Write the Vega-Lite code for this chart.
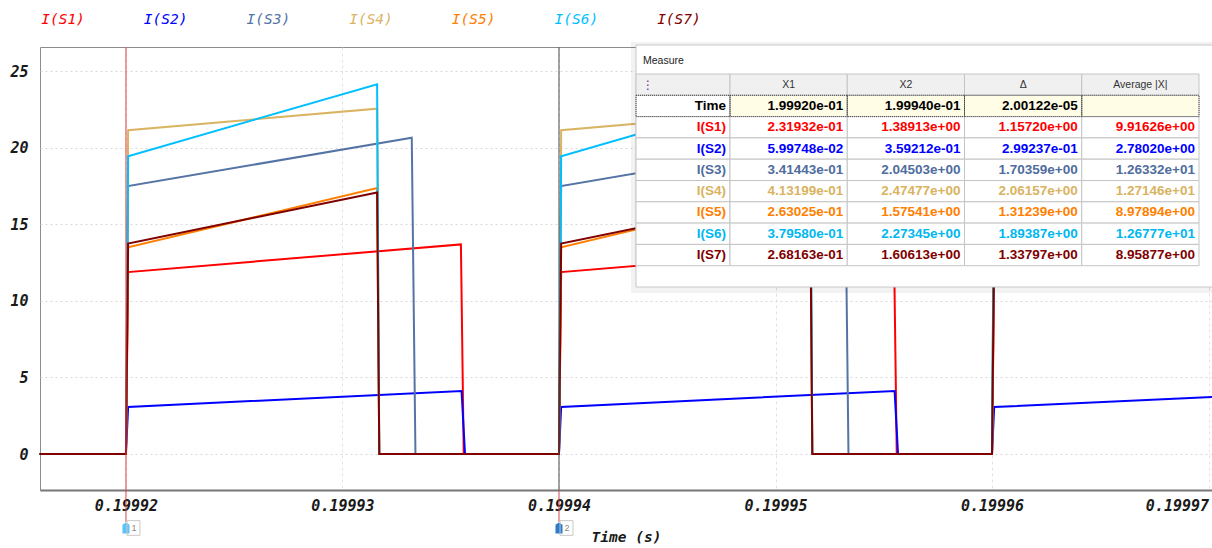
{
  "$schema": "https://vega.github.io/schema/vega-lite/v6.json",
  "width": 1172,
  "height": 443,
  "autosize": "none",
  "padding": {"left": 40, "top": 47, "right": 0, "bottom": 58},
  "background": "white",
  "config": {"view": {"stroke": "#8c8c8c", "strokeWidth": 1}, "font": "Liberation Sans"},
  "datasets": {
    "waves": [
      {"s": "I(S1)", "t": 0.199916, "i": 0}, {"s": "I(S1)", "t": 0.19992, "i": 0}, {"s": "I(S1)", "t": 0.1999201, "i": 11.88}, {"s": "I(S1)", "t": 0.19993547, "i": 13.69}, {"s": "I(S1)", "t": 0.1999356, "i": 0}, {"s": "I(S1)", "t": 0.19994, "i": 0}, {"s": "I(S1)", "t": 0.1999401, "i": 11.88}, {"s": "I(S1)", "t": 0.19995547, "i": 13.69}, {"s": "I(S1)", "t": 0.1999556, "i": 0}, {"s": "I(S1)", "t": 0.19996, "i": 0}, {"s": "I(S1)", "t": 0.1999601, "i": 11.88}, {"s": "I(S1)", "t": 0.19997016, "i": 13.05},
      {"s": "I(S2)", "t": 0.199916, "i": 0}, {"s": "I(S2)", "t": 0.19992, "i": 0}, {"s": "I(S2)", "t": 0.1999201, "i": 3.07}, {"s": "I(S2)", "t": 0.1999355, "i": 4.12}, {"s": "I(S2)", "t": 0.19993566, "i": 0}, {"s": "I(S2)", "t": 0.19994, "i": 0}, {"s": "I(S2)", "t": 0.1999401, "i": 3.07}, {"s": "I(S2)", "t": 0.1999555, "i": 4.12}, {"s": "I(S2)", "t": 0.19995566, "i": 0}, {"s": "I(S2)", "t": 0.19996, "i": 0}, {"s": "I(S2)", "t": 0.1999601, "i": 3.07}, {"s": "I(S2)", "t": 0.19997016, "i": 3.72},
      {"s": "I(S3)", "t": 0.199916, "i": 0}, {"s": "I(S3)", "t": 0.19992, "i": 0}, {"s": "I(S3)", "t": 0.1999201, "i": 17.5}, {"s": "I(S3)", "t": 0.1999332, "i": 20.65}, {"s": "I(S3)", "t": 0.19993337, "i": 0}, {"s": "I(S3)", "t": 0.19994, "i": 0}, {"s": "I(S3)", "t": 0.1999401, "i": 17.5}, {"s": "I(S3)", "t": 0.1999532, "i": 20.65}, {"s": "I(S3)", "t": 0.19995337, "i": 0}, {"s": "I(S3)", "t": 0.19996, "i": 0}, {"s": "I(S3)", "t": 0.1999601, "i": 17.5}, {"s": "I(S3)", "t": 0.19997016, "i": 19.95},
      {"s": "I(S4)", "t": 0.199916, "i": 0}, {"s": "I(S4)", "t": 0.19992, "i": 0}, {"s": "I(S4)", "t": 0.1999201, "i": 21.15}, {"s": "I(S4)", "t": 0.1999316, "i": 22.55}, {"s": "I(S4)", "t": 0.1999317, "i": 0}, {"s": "I(S4)", "t": 0.19994, "i": 0}, {"s": "I(S4)", "t": 0.1999401, "i": 21.15}, {"s": "I(S4)", "t": 0.1999516, "i": 22.55}, {"s": "I(S4)", "t": 0.1999517, "i": 0}, {"s": "I(S4)", "t": 0.19996, "i": 0}, {"s": "I(S4)", "t": 0.1999601, "i": 21.15}, {"s": "I(S4)", "t": 0.19997016, "i": 22.4},
      {"s": "I(S5)", "t": 0.199916, "i": 0}, {"s": "I(S5)", "t": 0.19992, "i": 0}, {"s": "I(S5)", "t": 0.1999201, "i": 13.5}, {"s": "I(S5)", "t": 0.1999316, "i": 17.37}, {"s": "I(S5)", "t": 0.1999317, "i": 0}, {"s": "I(S5)", "t": 0.19994, "i": 0}, {"s": "I(S5)", "t": 0.1999401, "i": 13.5}, {"s": "I(S5)", "t": 0.1999516, "i": 17.37}, {"s": "I(S5)", "t": 0.1999517, "i": 0}, {"s": "I(S5)", "t": 0.19996, "i": 0}, {"s": "I(S5)", "t": 0.1999601, "i": 13.5}, {"s": "I(S5)", "t": 0.19997016, "i": 16.9},
      {"s": "I(S6)", "t": 0.199916, "i": 0}, {"s": "I(S6)", "t": 0.19992, "i": 0}, {"s": "I(S6)", "t": 0.1999201, "i": 19.45}, {"s": "I(S6)", "t": 0.1999316, "i": 24.15}, {"s": "I(S6)", "t": 0.1999317, "i": 0}, {"s": "I(S6)", "t": 0.19994, "i": 0}, {"s": "I(S6)", "t": 0.1999401, "i": 19.45}, {"s": "I(S6)", "t": 0.1999516, "i": 24.15}, {"s": "I(S6)", "t": 0.1999517, "i": 0}, {"s": "I(S6)", "t": 0.19996, "i": 0}, {"s": "I(S6)", "t": 0.1999601, "i": 19.45}, {"s": "I(S6)", "t": 0.19997016, "i": 23.6},
      {"s": "I(S7)", "t": 0.199916, "i": 0}, {"s": "I(S7)", "t": 0.19992, "i": 0}, {"s": "I(S7)", "t": 0.1999201, "i": 13.75}, {"s": "I(S7)", "t": 0.1999316, "i": 17.08}, {"s": "I(S7)", "t": 0.1999317, "i": 0}, {"s": "I(S7)", "t": 0.19994, "i": 0}, {"s": "I(S7)", "t": 0.1999401, "i": 13.75}, {"s": "I(S7)", "t": 0.1999516, "i": 17.08}, {"s": "I(S7)", "t": 0.1999517, "i": 0}, {"s": "I(S7)", "t": 0.19996, "i": 0}, {"s": "I(S7)", "t": 0.1999601, "i": 13.75}, {"s": "I(S7)", "t": 0.19997016, "i": 16.7}
    ],
    "series": [{"s": "I(S1)"}, {"s": "I(S2)"}, {"s": "I(S3)"}, {"s": "I(S4)"}, {"s": "I(S5)"}, {"s": "I(S6)"}, {"s": "I(S7)"}],
    "cursors": [{"c": "1", "t": 0.19992}, {"c": "2", "t": 0.19994}],
    "panel": [{"p": "Measure"}],
    "measure": [
      {"row": "header", "X1": "X1", "X2": "X2", "Δ": "Δ", "Average |X|": "Average |X|"},
      {"row": "Time", "X1": "1.99920e-01", "X2": "1.99940e-01", "Δ": "2.00122e-05", "Average |X|": ""},
      {"row": "I(S1)", "X1": "2.31932e-01", "X2": "1.38913e+00", "Δ": "1.15720e+00", "Average |X|": "9.91626e+00"},
      {"row": "I(S2)", "X1": "5.99748e-02", "X2": "3.59212e-01", "Δ": "2.99237e-01", "Average |X|": "2.78020e+00"},
      {"row": "I(S3)", "X1": "3.41443e-01", "X2": "2.04503e+00", "Δ": "1.70359e+00", "Average |X|": "1.26332e+01"},
      {"row": "I(S4)", "X1": "4.13199e-01", "X2": "2.47477e+00", "Δ": "2.06157e+00", "Average |X|": "1.27146e+01"},
      {"row": "I(S5)", "X1": "2.63025e-01", "X2": "1.57541e+00", "Δ": "1.31239e+00", "Average |X|": "8.97894e+00"},
      {"row": "I(S6)", "X1": "3.79580e-01", "X2": "2.27345e+00", "Δ": "1.89387e+00", "Average |X|": "1.26777e+01"},
      {"row": "I(S7)", "X1": "2.68163e-01", "X2": "1.60613e+00", "Δ": "1.33797e+00", "Average |X|": "8.95877e+00"}
    ]
  },
  "layer": [
    {
      "layer": [
        {
          "data": {"name": "waves"},
          "mark": {"type": "line", "strokeWidth": 2},
          "encoding": {
            "x": {"field": "t", "type": "quantitative",
              "scale": {"domain": [0.19991603, 0.19997016], "nice": false, "zero": false},
              "axis": {"values": [0.19992, 0.19993, 0.19994, 0.19995, 0.19996, 0.19997], "format": ".5f", "title": "Time (s)",
                "grid": true, "gridColor": "#e2e2e2", "gridDash": [3, 3], "ticks": false, "domain": true, "domainColor": "#777777", "domainWidth": 2,
                "labelFont": "DejaVu Sans Mono", "labelFontStyle": "italic", "labelFontWeight": "bold", "labelFontSize": 15, "labelColor": "#1a1a1a", "labelPadding": 8, "labelFlush": 6,
                "titleFont": "DejaVu Sans Mono", "titleFontStyle": "italic", "titleFontWeight": "bold", "titleFontSize": 14.5, "titleColor": "#1a1a1a", "titlePadding": 17}},
            "y": {"field": "i", "type": "quantitative",
              "scale": {"domain": [-2.35, 26.58], "nice": false, "zero": false},
              "axis": {"values": [0, 5, 10, 15, 20, 25], "title": null, "grid": true, "gridColor": "#d9d9d9", "gridDash": [2, 3], "ticks": false, "domain": false,
                "labelFont": "DejaVu Sans Mono", "labelFontStyle": "italic", "labelFontWeight": "bold", "labelFontSize": 15, "labelColor": "#1a1a1a", "labelPadding": 12}},
            "color": {"field": "s", "type": "nominal",
              "scale": {"domain": ["I(S1)", "I(S2)", "I(S3)", "I(S4)", "I(S5)", "I(S6)", "I(S7)"], "range": ["#ff0000", "#0000ff", "#5574a6", "#d9b462", "#ff8000", "#00bfff", "#800000"]},
              "legend": null}
          }
        },
        {
          "data": {"name": "cursors"},
          "mark": {"type": "rule", "strokeWidth": 1},
          "encoding": {
            "x": {"field": "t", "type": "quantitative"},
            "color": {"condition": {"test": "datum.c === '1'", "value": "#e23a3a"}, "value": "#4a4a4a"}
          }
        },
        {
          "data": {"name": "cursors"},
          "mark": {"type": "rule", "strokeWidth": 1, "color": "#d04848", "clip": false},
          "encoding": {
            "x": {"field": "t", "type": "quantitative"},
            "y": {"datum": -2.35},
            "y2": {"datum": -4.45}
          }
        },
        {
          "data": {"name": "cursors"},
          "mark": {"type": "point", "filled": true, "opacity": 1, "shape": "M0,-1.6L1,-0.9L1,1.6L-1,1.6L-1,-0.9Z", "size": 49, "strokeWidth": 0, "clip": false},
          "encoding": {
            "x": {"field": "t", "type": "quantitative"},
            "y": {"datum": -4.83},
            "color": {"condition": {"test": "datum.c === '1'", "value": "#5cc2f7"}, "value": "#2b7bc9"}
          }
        },
        {
          "data": {"name": "cursors"},
          "mark": {"type": "point", "filled": false, "opacity": 1, "shape": "M0.3,-2.1L4,-2.1L4,2.1L0.3,2.1Z", "size": 49, "strokeWidth": 1, "color": "#c8c8c8", "clip": false},
          "encoding": {
            "x": {"field": "t", "type": "quantitative"},
            "y": {"datum": -4.83}
          }
        },
        {
          "data": {"name": "cursors"},
          "mark": {"type": "text", "dx": 8, "fontSize": 9, "color": "#888888", "align": "center", "baseline": "middle", "font": "Liberation Sans"},
          "encoding": {
            "x": {"field": "t", "type": "quantitative"},
            "y": {"datum": -4.83},
            "text": {"field": "c"}
          }
        }
      ]
    },
    {
      "data": {"name": "series"},
      "mark": {"type": "text", "align": "center", "baseline": "middle", "font": "DejaVu Sans Mono", "fontStyle": "italic", "fontSize": 14.5},
      "encoding": {
        "x": {"field": "s", "type": "nominal", "scale": {"domain": ["I(S1)", "I(S2)", "I(S3)", "I(S4)", "I(S5)", "I(S6)", "I(S7)"], "range": [-28.3, 690.3], "paddingInner": 0, "paddingOuter": 0}, "axis": null},
        "y": {"datum": "legend", "type": "nominal", "scale": {"domain": ["legend"], "range": [-37, -17], "paddingInner": 0, "paddingOuter": 0}, "axis": null},
        "text": {"field": "s"},
        "color": {"field": "s", "type": "nominal", "legend": null}
      }
    },
    {
      "data": {"name": "panel"},
      "mark": {"type": "rect", "fill": "#000000", "fillOpacity": 0.05},
      "encoding": {
        "x": {"field": "p", "type": "nominal", "scale": {"domain": ["Measure"], "range": [591, 1185], "paddingInner": 0, "paddingOuter": 0}, "axis": null},
        "y": {"field": "p", "type": "nominal", "scale": {"domain": ["Measure"], "range": [-5, 246], "paddingInner": 0, "paddingOuter": 0}, "axis": null}
      }
    },
    {
      "data": {"name": "panel"},
      "mark": {"type": "rect", "fill": "#ffffff", "stroke": "#c8c8c8", "strokeWidth": 1},
      "encoding": {
        "x": {"field": "p", "type": "nominal", "scale": {"domain": ["Measure"], "range": [596, 1180], "paddingInner": 0, "paddingOuter": 0}, "axis": null},
        "y": {"field": "p", "type": "nominal", "scale": {"domain": ["Measure"], "range": [-2, 240], "paddingInner": 0, "paddingOuter": 0}, "axis": null}
      }
    },
    {
      "data": {"name": "panel"},
      "mark": {"type": "text", "align": "left", "baseline": "middle", "fontSize": 10.5, "font": "Liberation Sans", "color": "#222222"},
      "encoding": {
        "x": {"field": "p", "type": "nominal", "scale": {"domain": ["Measure"], "range": [598, 608], "paddingInner": 0, "paddingOuter": 0}, "axis": null},
        "y": {"field": "p", "type": "nominal", "scale": {"domain": ["Measure"], "range": [4, 24], "paddingInner": 0, "paddingOuter": 0}, "axis": null},
        "text": {"field": "p"}
      }
    },
    {
      "data": {"name": "measure"},
      "mark": {"type": "rect", "stroke": "#c4c4c4", "strokeWidth": 1},
      "encoding": {
        "x": {"datum": "label", "type": "nominal", "scale": {"domain": ["label"], "range": [596, 690], "paddingInner": 0, "paddingOuter": 0}, "axis": null},
        "y": {"field": "row", "type": "nominal", "scale": {"domain": ["header", "Time", "I(S1)", "I(S2)", "I(S3)", "I(S4)", "I(S5)", "I(S6)", "I(S7)"], "range": [27, 218.7], "paddingInner": 0, "paddingOuter": 0}, "axis": null},
        "fill": {"condition": {"test": "datum.row === 'header'", "value": "#f0f0f0"}, "value": "#ffffff"}
      }
    },
    {
      "data": {"name": "measure"},
      "transform": [{"fold": ["X1", "X2", "Δ", "Average |X|"], "as": ["col", "txt"]}],
      "mark": {"type": "rect", "stroke": "#c4c4c4", "strokeWidth": 1},
      "encoding": {
        "x": {"field": "col", "type": "nominal", "scale": {"domain": ["X1", "X2", "Δ", "Average |X|"], "range": [690, 1159], "paddingInner": 0, "paddingOuter": 0}, "axis": null},
        "y": {"field": "row", "type": "nominal", "scale": {"domain": ["header", "Time", "I(S1)", "I(S2)", "I(S3)", "I(S4)", "I(S5)", "I(S6)", "I(S7)"], "range": [27, 218.7], "paddingInner": 0, "paddingOuter": 0}, "axis": null},
        "fill": {"condition": [{"test": "datum.row === 'header'", "value": "#f0f0f0"}, {"test": "datum.row === 'Time'", "value": "#fffde6"}], "value": "#ffffff"}
      }
    },
    {
      "data": {"name": "measure"},
      "transform": [{"filter": "datum.row === 'Time'"}],
      "mark": {"type": "rect", "fillOpacity": 0, "stroke": "#444444", "strokeWidth": 1, "strokeDash": [1, 1]},
      "encoding": {
        "x": {"datum": "label", "type": "nominal", "scale": {"domain": ["label"], "range": [596, 690], "paddingInner": 0, "paddingOuter": 0}, "axis": null},
        "y": {"field": "row", "type": "nominal", "scale": {"domain": ["header", "Time", "I(S1)", "I(S2)", "I(S3)", "I(S4)", "I(S5)", "I(S6)", "I(S7)"], "range": [27, 218.7], "paddingInner": 0, "paddingOuter": 0}, "axis": null}
      }
    },
    {
      "data": {"name": "measure"},
      "transform": [{"filter": "datum.row === 'Time'"}, {"fold": ["X1", "X2", "Δ", "Average |X|"], "as": ["col", "txt"]}],
      "mark": {"type": "rect", "fillOpacity": 0, "stroke": "#444444", "strokeWidth": 1, "strokeDash": [1, 1]},
      "encoding": {
        "x": {"field": "col", "type": "nominal", "scale": {"domain": ["X1", "X2", "Δ", "Average |X|"], "range": [690, 1159], "paddingInner": 0, "paddingOuter": 0}, "axis": null},
        "y": {"field": "row", "type": "nominal", "scale": {"domain": ["header", "Time", "I(S1)", "I(S2)", "I(S3)", "I(S4)", "I(S5)", "I(S6)", "I(S7)"], "range": [27, 218.7], "paddingInner": 0, "paddingOuter": 0}, "axis": null}
      }
    },
    {
      "data": {"name": "panel"},
      "mark": {"type": "text", "text": "⋮", "align": "center", "baseline": "middle", "fontSize": 12, "font": "DejaVu Sans", "color": "#6a2a8a"},
      "encoding": {
        "x": {"datum": "label", "type": "nominal", "scale": {"domain": ["label"], "range": [603, 613], "paddingInner": 0, "paddingOuter": 0}, "axis": null},
        "y": {"datum": "header", "type": "nominal", "scale": {"domain": ["header", "Time", "I(S1)", "I(S2)", "I(S3)", "I(S4)", "I(S5)", "I(S6)", "I(S7)"], "range": [27, 218.7], "paddingInner": 0, "paddingOuter": 0}, "axis": null}
      }
    },
    {
      "data": {"name": "measure"},
      "transform": [{"filter": "datum.row !== 'header'"}],
      "mark": {"type": "text", "align": "right", "baseline": "middle", "dx": 43, "fontSize": 13.5, "fontWeight": "bold", "font": "Liberation Sans"},
      "encoding": {
        "x": {"datum": "label", "type": "nominal", "scale": {"domain": ["label"], "range": [596, 690], "paddingInner": 0, "paddingOuter": 0}, "axis": null},
        "y": {"field": "row", "type": "nominal", "scale": {"domain": ["header", "Time", "I(S1)", "I(S2)", "I(S3)", "I(S4)", "I(S5)", "I(S6)", "I(S7)"], "range": [27, 218.7], "paddingInner": 0, "paddingOuter": 0}, "axis": null},
        "text": {"field": "row"},
        "fill": {"field": "row", "type": "nominal", "legend": null,
          "scale": {"domain": ["header", "Time", "I(S1)", "I(S2)", "I(S3)", "I(S4)", "I(S5)", "I(S6)", "I(S7)"], "range": ["#333333", "#000000", "#ff0000", "#0000ff", "#4f6d9e", "#d9b35f", "#ff8000", "#00b7f0", "#800000"]}}
      }
    },
    {
      "data": {"name": "measure"},
      "transform": [{"filter": "datum.row === 'header'"}, {"fold": ["X1", "X2", "Δ", "Average |X|"], "as": ["col", "txt"]}],
      "mark": {"type": "text", "align": "center", "baseline": "middle", "fontSize": 10.5, "font": "Liberation Sans", "color": "#333333"},
      "encoding": {
        "x": {"field": "col", "type": "nominal", "scale": {"domain": ["X1", "X2", "Δ", "Average |X|"], "range": [690, 1159], "paddingInner": 0, "paddingOuter": 0}, "axis": null},
        "y": {"field": "row", "type": "nominal", "scale": {"domain": ["header", "Time", "I(S1)", "I(S2)", "I(S3)", "I(S4)", "I(S5)", "I(S6)", "I(S7)"], "range": [27, 218.7], "paddingInner": 0, "paddingOuter": 0}, "axis": null},
        "text": {"field": "txt"}
      }
    },
    {
      "data": {"name": "measure"},
      "transform": [{"filter": "datum.row !== 'header'"}, {"fold": ["X1", "X2", "Δ", "Average |X|"], "as": ["col", "txt"]}],
      "mark": {"type": "text", "align": "right", "baseline": "middle", "dx": 54.6, "fontSize": 13.5, "fontWeight": "bold", "font": "Liberation Sans"},
      "encoding": {
        "x": {"field": "col", "type": "nominal", "scale": {"domain": ["X1", "X2", "Δ", "Average |X|"], "range": [690, 1159], "paddingInner": 0, "paddingOuter": 0}, "axis": null},
        "y": {"field": "row", "type": "nominal", "scale": {"domain": ["header", "Time", "I(S1)", "I(S2)", "I(S3)", "I(S4)", "I(S5)", "I(S6)", "I(S7)"], "range": [27, 218.7], "paddingInner": 0, "paddingOuter": 0}, "axis": null},
        "text": {"field": "txt"},
        "fill": {"field": "row", "type": "nominal", "legend": null,
          "scale": {"domain": ["header", "Time", "I(S1)", "I(S2)", "I(S3)", "I(S4)", "I(S5)", "I(S6)", "I(S7)"], "range": ["#333333", "#000000", "#ff0000", "#0000ff", "#4f6d9e", "#d9b35f", "#ff8000", "#00b7f0", "#800000"]}}
      }
    }
  ],
  "resolve": {"scale": {"x": "independent", "y": "independent"}}
}
